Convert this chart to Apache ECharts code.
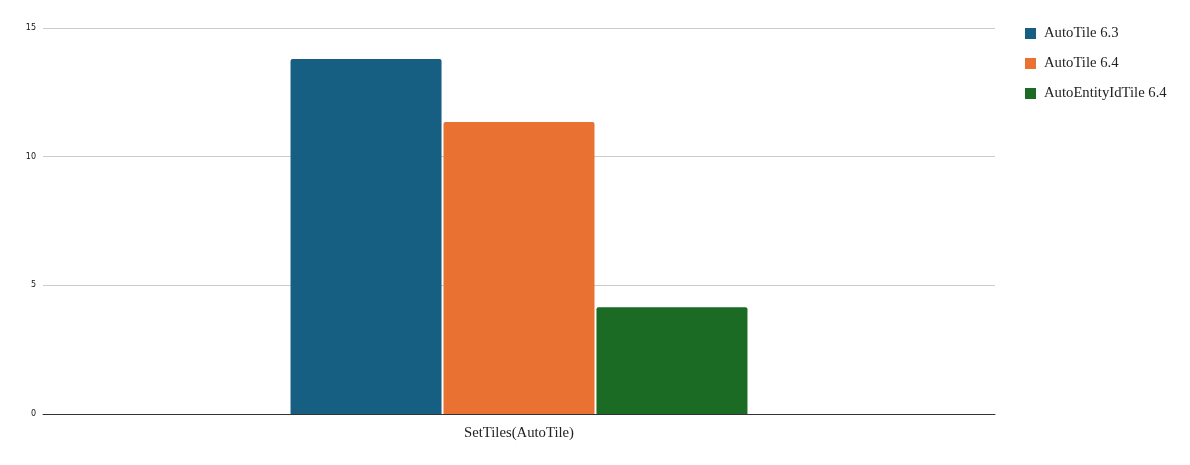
<!DOCTYPE html>
<html>
<head>
<meta charset="utf-8">
<script src="https://cdn.jsdelivr.net/npm/echarts@6/dist/echarts.min.js"></script>
<style>
  html, body { margin: 0; padding: 0; background: #fff; }
  #main { width: 1190px; height: 465px; }
</style>
</head>
<body>
<div id="main"></div>
<script>
// data
var categories = ['SetTiles(AutoTile)'];
var seriesNames = ['AutoTile 6.3', 'AutoTile 6.4', 'AutoEntityIdTile 6.4'];
var autoTile63 = [13.8];
var autoTile64 = [11.35];
var autoEntityIdTile64 = [4.15];
var yTicks = [0, 5, 10, 15];

var colors = ['#175f82', '#e97132', '#1b6b24'];
var seriesData = [autoTile63, autoTile64, autoEntityIdTile64];

var myChart = echarts.init(document.getElementById('main'));

var series = seriesNames.map(function (name, i) {
  return {
    name: name,
    type: 'bar',
    data: seriesData[i],
    barWidth: 151,
    barGap: '1.3%',
    itemStyle: { color: colors[i], borderRadius: [2, 2, 0, 0] }
  };
});

var option = {
  animation: false,
  color: colors,
  grid: { left: 43, right: 195, top: 28, bottom: 51, containLabel: false },
  legend: {
    orient: 'vertical',
    left: 1020,
    top: 21,
    itemWidth: 11,
    itemHeight: 11,
    itemGap: 15,
    icon: 'rect',
    data: seriesNames,
    textStyle: { fontFamily: 'Liberation Serif', fontSize: 14.7, color: '#222', padding: [0, 0, 0, 3] }
  },
  xAxis: {
    type: 'category',
    data: categories,
    axisLine: { lineStyle: { color: '#333', width: 1 } },
    axisTick: { show: false },
    axisLabel: { fontFamily: 'Liberation Serif', fontSize: 14.7, color: '#222', margin: 12 }
  },
  yAxis: {
    type: 'value',
    min: yTicks[0],
    max: yTicks[yTicks.length - 1],
    interval: 5,
    axisLine: { show: false },
    axisTick: { show: false },
    splitLine: { lineStyle: { color: '#cccccc' } },
    axisLabel: { fontFamily: 'DejaVu Sans', fontSize: 8, color: '#111', margin: 7 }
  },
  series: series
};

myChart.setOption(option);
</script>
</body>
</html>
